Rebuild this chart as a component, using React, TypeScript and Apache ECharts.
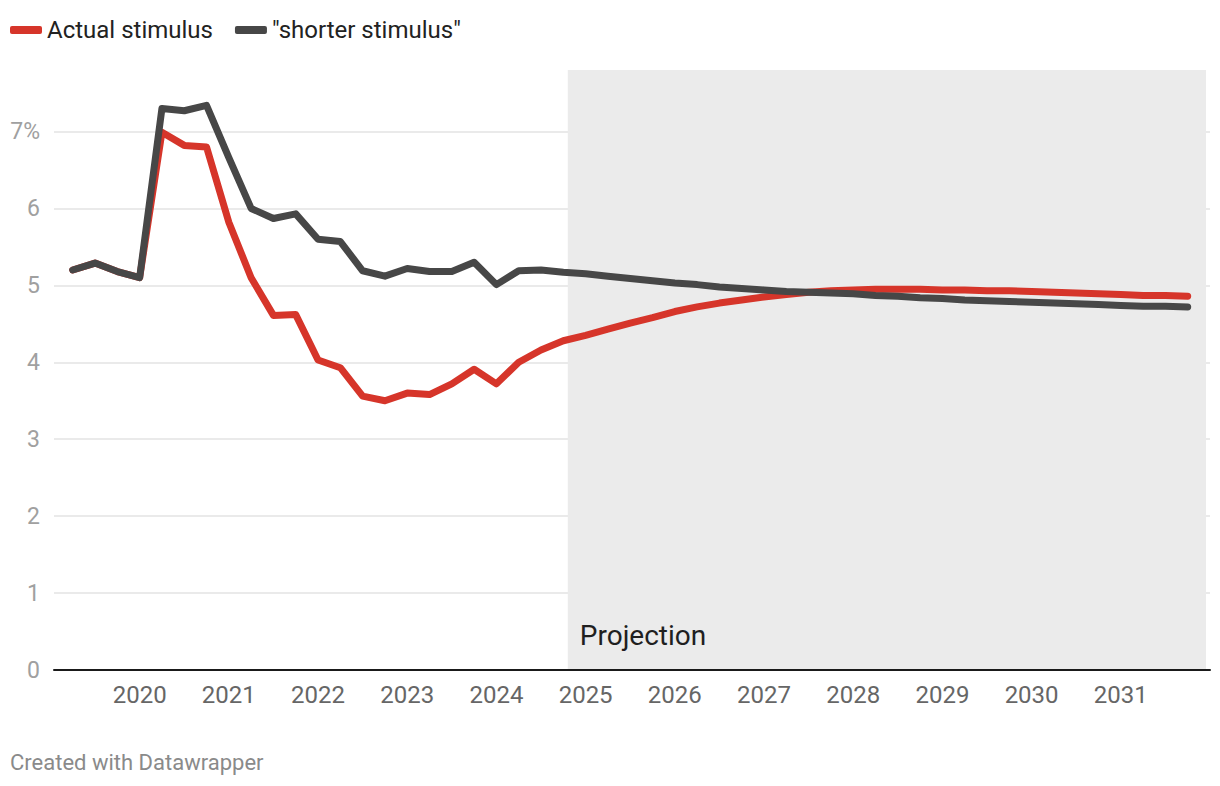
import React, { useEffect, useRef } from "react";
import * as echarts from "echarts";

const quarters = [
  "2019-04", "2019-07", "2019-10",
  "2020-01", "2020-04", "2020-07", "2020-10",
  "2021-01", "2021-04", "2021-07", "2021-10",
  "2022-01", "2022-04", "2022-07", "2022-10",
  "2023-01", "2023-04", "2023-07", "2023-10",
  "2024-01", "2024-04", "2024-07", "2024-10",
  "2025-01", "2025-04", "2025-07", "2025-10",
  "2026-01", "2026-04", "2026-07", "2026-10",
  "2027-01", "2027-04", "2027-07", "2027-10",
  "2028-01", "2028-04", "2028-07", "2028-10",
  "2029-01", "2029-04", "2029-07", "2029-10",
  "2030-01", "2030-04", "2030-07", "2030-10",
  "2031-01", "2031-04", "2031-07", "2031-10",
];

const actualStimulus = [
  5.2, 5.29, 5.18,
  5.1, 6.99, 6.82, 6.8,
  5.82, 5.1, 4.61, 4.62,
  4.03, 3.93, 3.56, 3.5,
  3.6, 3.58, 3.72, 3.91,
  3.72, 4.0, 4.16, 4.28,
  4.35, 4.43, 4.51, 4.58,
  4.66, 4.72, 4.77, 4.81,
  4.85, 4.88, 4.91, 4.93,
  4.94, 4.95, 4.95, 4.95,
  4.94, 4.94, 4.93, 4.93,
  4.92, 4.91, 4.9, 4.89,
  4.88, 4.87, 4.87, 4.86,
];

const shorterStimulus = [
  5.2, 5.29, 5.18,
  5.1, 7.3, 7.27, 7.34,
  6.66, 6.0, 5.87, 5.93,
  5.6, 5.57, 5.19, 5.12,
  5.22, 5.18, 5.18, 5.3,
  5.01, 5.19, 5.2, 5.17,
  5.15, 5.12, 5.09, 5.06,
  5.03, 5.01, 4.98, 4.96,
  4.94, 4.92, 4.91, 4.9,
  4.89, 4.87, 4.86, 4.84,
  4.83, 4.81, 4.8, 4.79,
  4.78, 4.77, 4.76, 4.75,
  4.74, 4.73, 4.73, 4.72,
];

const yearTicks = [2020, 2021, 2022, 2023, 2024, 2025, 2026, 2027, 2028, 2029, 2030, 2031];
const yTicks = [0, 1, 2, 3, 4, 5, 6, 7];
const projectionStart = 2024.8;
const projectionEnd = 2031.955;
const seriesNames = ["Actual stimulus", "\"shorter stimulus\""];

const toYear = (q: string) => {
  const [y, m] = q.split("-").map(Number);
  return y + (m - 1) / 12;
};

export default function App() {
  const ref = useRef<HTMLDivElement>(null);
  useEffect(() => {
    if (!ref.current) return;
    const chart = echarts.init(ref.current, null, { renderer: "svg" });
    const font = "Roboto, 'Noto Sans', sans-serif";
    const xs = quarters.map(toYear);
    chart.setOption({
      animation: false,
      textStyle: { fontFamily: font },
      title: {
        text: "Created with Datawrapper",
        left: 10,
        top: 751,
        padding: 0,
        textStyle: { fontSize: 22, fontWeight: "normal", color: "#8a8a8a", fontFamily: font },
      },
      legend: {
        left: 10,
        top: 18,
        padding: 0,
        itemGap: 22,
        itemWidth: 32,
        itemHeight: 8,
        icon: "roundRect",
        textStyle: { fontSize: 24, color: "#222", fontFamily: font },
        data: seriesNames,
      },
      grid: { left: 54, right: 10, top: 70, bottom: 116, containLabel: false },
      xAxis: {
        type: "value",
        min: 2019.04,
        max: 2032,
        z: 4,
        axisLine: { show: true, lineStyle: { color: "#1a1a1a", width: 2 } },
        axisTick: { show: false },
        splitLine: { show: false },
        axisLabel: {
          customValues: yearTicks,
          formatter: (v: number) => String(Math.round(v)),
          fontSize: 24,
          color: "#666666",
          margin: 13,
          fontFamily: font,
        },
      },
      yAxis: {
        type: "value",
        min: 0,
        max: 7.8,
        interval: 1,
        z: 1,
        axisLine: { show: false },
        axisTick: { show: false },
        axisLabel: {
          customValues: yTicks,
          formatter: (v: number) => (v === 7 ? "7%" : String(v)),
          fontSize: 23,
          color: "#a0a0a0",
          margin: 14,
          fontFamily: font,
        },
        splitLine: {
          show: true,
          showMaxLine: false,
          lineStyle: { color: "#e3e3e3", width: 1.5 },
        },
      },
      series: [
        {
          name: "projection-area",
          type: "line",
          data: [],
          z: 0,
          silent: true,
          markArea: {
            silent: true,
            itemStyle: { color: "#ebebeb" },
            label: {
              show: true,
              position: [12, 551],
              fontSize: 28,
              color: "#1f1f1f",
              fontFamily: font,
            },
            data: [[{ xAxis: projectionStart, name: "Projection" }, { xAxis: projectionEnd }]],
          },
        },
        {
          name: seriesNames[0],
          type: "line",
          data: xs.map((x, i) => [x, actualStimulus[i]]),
          showSymbol: false,
          symbol: "none",
          color: "#d6352a",
          lineStyle: { width: 7, color: "#d6352a", cap: "round", join: "round" },
          z: 2,
        },
        {
          name: seriesNames[1],
          type: "line",
          data: xs.map((x, i) => [x, shorterStimulus[i]]),
          showSymbol: false,
          symbol: "none",
          color: "#474747",
          lineStyle: { width: 7, color: "#474747", cap: "round", join: "round" },
          z: 3,
        },
      ],
    });
    return () => chart.dispose();
  }, []);
  return (
    <div
      ref={ref}
      style={{ position: "absolute", left: 0, top: 0, width: 1220, height: 786, background: "#fff" }}
    />
  );
}
